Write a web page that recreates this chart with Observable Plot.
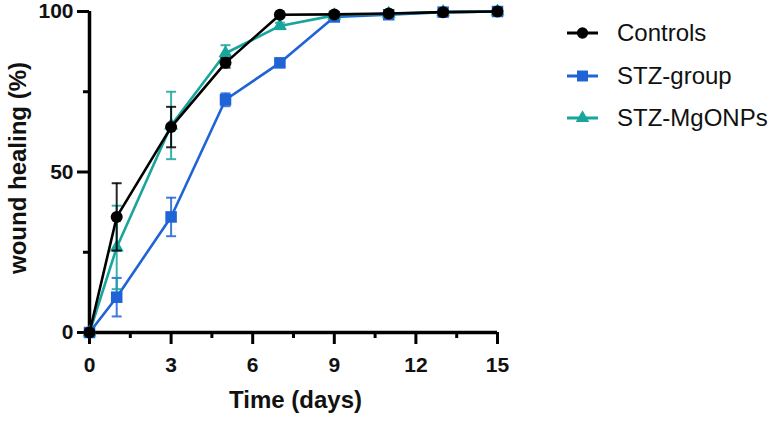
<!DOCTYPE html>
<html>
<head>
<meta charset="utf-8">
<script src="https://cdn.jsdelivr.net/npm/d3@7"></script>
<script src="https://cdn.jsdelivr.net/npm/@observablehq/plot@0.6"></script>
<style>
  html, body { margin: 0; padding: 0; background: #fff; }
  #wrap { position: relative; width: 774px; height: 421px; font-family: "Liberation Sans", Arial, sans-serif; }
  .leg { position: absolute; left: 560px; display: flex; align-items: center; font-size: 24px; color: #111; }
  .leg svg { display: block; margin-right: 12px; }
</style>
</head>
<body>
<div id="wrap"></div>
<script>
// Data
const days = [0, 1, 3, 5, 7, 9, 11, 13, 15];
const seriesNames = ["Controls", "STZ-group", "STZ-MgONPs"];
const controls    = [0, 36, 64, 84, 99, 99.1, 99.4, 99.8, 100];
const controlsErr = [0, 10.5, 6.3, 1.5, 0.5, 0.5, 0.3, 0.2, 0.2];
const stzGroup    = [0, 11, 36, 72.5, 84, 98.3, 99, 99.8, 100];
const stzGroupErr = [0, 6, 6, 2, 1, 0.5, 0.5, 0.2, 0.2];
const stzMg       = [0, 26.5, 64.5, 87, 95.5, 98.8, 99.3, 99.8, 100];
const stzMgErr    = [0, 13, 10.5, 2.5, 1, 0.5, 0.3, 0.2, 0.2];
const xTicks = [0, 3, 6, 9, 12, 15];
const xMinorTicks = [1.5, 4.5, 7.5, 10.5, 13.5];
const yTicks = [0, 50, 100];
const yMinorTicks = [25, 75];
const colors = {"Controls": "#000000", "STZ-group": "#1f63d6", "STZ-MgONPs": "#17a59c"};
const symbols = {"Controls": "circle", "STZ-group": "square", "STZ-MgONPs": "triangle"};

const build = (name, vals, errs) => days.map((d, i) => ({series: name, day: d, value: vals[i], lo: vals[i] - errs[i], hi: vals[i] + errs[i]}));
const data = {
  "Controls": build("Controls", controls, controlsErr),
  "STZ-group": build("STZ-group", stzGroup, stzGroupErr),
  "STZ-MgONPs": build("STZ-MgONPs", stzMg, stzMgErr)
};

const capSymbol = { draw(ctx) { ctx.moveTo(-5, 0); ctx.lineTo(5, 0); } };
const sizes = {"Controls": 6, "STZ-group": 6.5, "STZ-MgONPs": 5.2};

const order = ["STZ-group", "STZ-MgONPs", "Controls"];
const seriesMarks = order.flatMap(name => {
  const rows = data[name];
  const c = colors[name];
  return [
    Plot.ruleX(rows, {x: "day", y1: "lo", y2: "hi", stroke: c, strokeWidth: 2, strokeOpacity: 0.85}),
    Plot.dot(rows, {x: "day", y: "lo", symbol: capSymbol, stroke: c, strokeWidth: 2, strokeOpacity: 0.85, r: 5}),
    Plot.dot(rows, {x: "day", y: "hi", symbol: capSymbol, stroke: c, strokeWidth: 2, strokeOpacity: 0.85, r: 5}),
    Plot.line(rows, {x: "day", y: "value", stroke: c, strokeWidth: 2.6}),
    Plot.dot(rows, {x: "day", y: "value", symbol: symbols[name], fill: c, r: sizes[name]})
  ];
});

const chart = Plot.plot({
  width: 774,
  height: 421,
  marginLeft: 89,
  marginRight: 277,
  marginTop: 11,
  marginBottom: 89,
  style: {fontFamily: "Liberation Sans, Arial, sans-serif", background: "#fff", overflow: "visible"},
  x: {domain: [0, 15]},
  y: {domain: [0, 100]},
  marks: [
    Plot.axisX({ticks: xMinorTicks, tickSize: 6, strokeWidth: 3, text: null, label: null}),
    Plot.axisX({ticks: xTicks, tickSize: 12, tickPadding: 13, strokeWidth: 3, fontSize: 21, fontWeight: "bold", fill: "#111", label: null}),
    Plot.axisY({ticks: yMinorTicks, tickSize: 6, strokeWidth: 3, text: null, label: null}),
    Plot.axisY({ticks: yTicks, tickSize: 12, tickPadding: 4, strokeWidth: 3, fontSize: 21, fontWeight: "bold", fill: "#111", label: null}),
    Plot.ruleY([0], {strokeWidth: 3.5, stroke: "#000"}),
    Plot.ruleX([0], {strokeWidth: 3.5, stroke: "#000"}),
    ...seriesMarks,
    Plot.text(["Time (days)"], {frameAnchor: "bottom", lineAnchor: "top", dy: 58, dx: 2, fontSize: 24, fontWeight: "bold", fill: "#111"}),
    Plot.text(["wound healing (%)"], {frameAnchor: "left", textAnchor: "middle", lineAnchor: "middle", rotate: -90, dx: -71, dy: -4, fontSize: 24, fontWeight: "bold", fill: "#111"})
  ]
});

const wrap = document.getElementById("wrap");
wrap.appendChild(chart);

// Legend
const legendY = [33, 76, 118];
seriesNames.forEach((name, i) => {
  const row = document.createElement("div");
  row.className = "leg";
  row.style.top = (legendY[i] - 15) + "px";
  row.style.height = "30px";
  const s = d3.create("svg").attr("width", 45).attr("height", 30);
  s.append("line").attr("x1", 7).attr("x2", 38).attr("y1", 15).attr("y2", 15)
    .attr("stroke", colors[name]).attr("stroke-width", 3);
  const symType = {circle: d3.symbolCircle, square: d3.symbolSquare, triangle: d3.symbolTriangle}[symbols[name]];
  s.append("path").attr("d", d3.symbol(symType, name === "Controls" ? 100 : (name === "STZ-group" ? 120 : 80))())
    .attr("transform", "translate(22.5,15)").attr("fill", colors[name]);
  row.appendChild(s.node());
  const t = document.createElement("span");
  t.textContent = name;
  row.appendChild(t);
  wrap.appendChild(row);
});
</script>
</body>
</html>
